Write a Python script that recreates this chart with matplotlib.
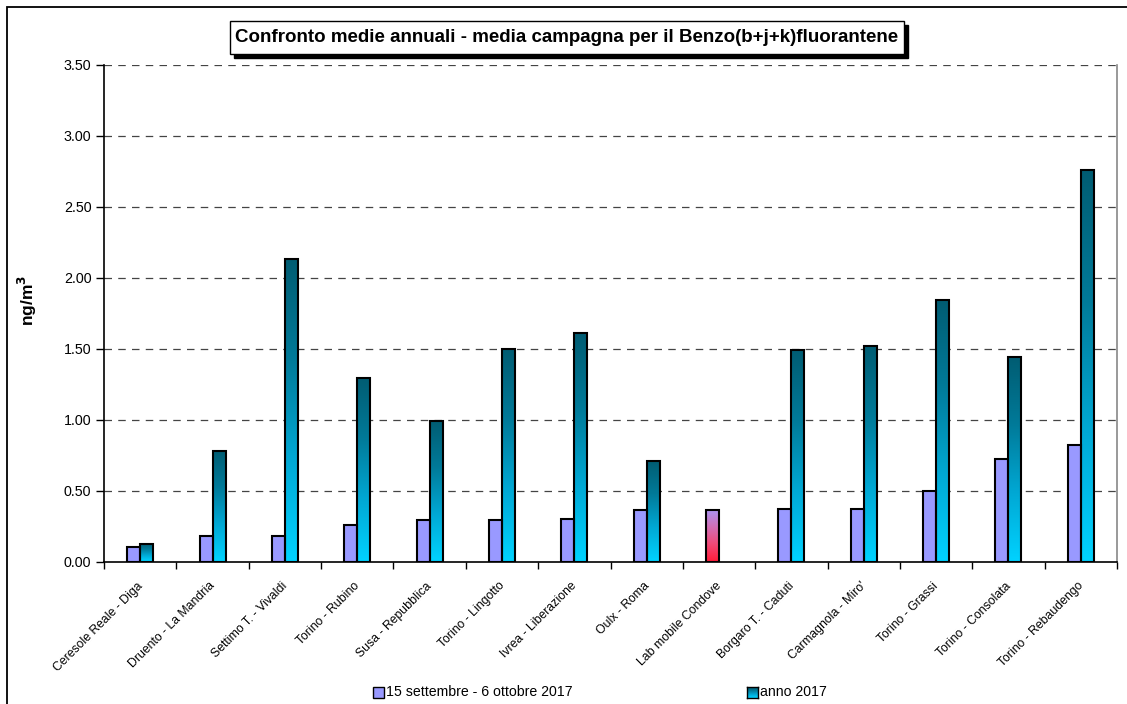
import numpy as np
import matplotlib
matplotlib.use("Agg")
import matplotlib.pyplot as plt
from matplotlib.colors import LinearSegmentedColormap
from matplotlib.patches import Rectangle

plt.rcParams['font.family'] = ['Liberation Sans', 'DejaVu Sans']

stations = [
    "Ceresole Reale - Diga", "Druento - La Mandria", "Settimo T. - Vivaldi",
    "Torino - Rubino", "Susa - Repubblica", "Torino - Lingotto",
    "Ivrea - Liberazione", "Oulx - Roma", "Lab mobile Condove",
    "Borgaro T. - Caduti", "Carmagnola - Miro'", "Torino - Grassi",
    "Torino - Consolata", "Torino - Rebaudengo",
]
campaign = [0.10, 0.18, 0.18, 0.26, 0.29, 0.29, 0.30, 0.36, 0.36,
            0.37, 0.37, 0.50, 0.72, 0.82]
year_2017 = [0.12, 0.78, 2.13, 1.29, 0.99, 1.50, 1.61, 0.71, None,
             1.49, 1.52, 1.84, 1.44, 2.76]
mobile_lab = "Lab mobile Condove"
yticks = [0.0, 0.5, 1.0, 1.5, 2.0, 2.5, 3.0, 3.5]

label_campaign = "15 settembre - 6 ottobre 2017"
label_year = "anno 2017"
title = "Confronto medie annuali - media campagna per il Benzo(b+j+k)fluorantene"

W, H = 1127, 704
fig = plt.figure(figsize=(W / 100, H / 100), dpi=100)
ax = fig.add_axes([104 / W, 1 - 561.5 / H, (1117 - 104) / W, (561.5 - 64.5) / H])

purple = "#9999ff"
cyan_cmap = LinearSegmentedColormap.from_list(
    "cyan_grad", ["#00d2ff", "#00a8d4", "#007a99", "#005c72"])
lab_cmap = LinearSegmentedColormap.from_list(
    "lab_grad", ["#ff1e3c", "#f04a78", "#d070b8", "#a896f4"])
grad = np.linspace(0, 1, 256).reshape(-1, 1)

bw = 0.18
x = np.arange(len(stations)) + 0.5


def gradient_bar(x0, h, cmap):
    ax.imshow(grad, extent=[x0, x0 + bw, 0, h], origin="lower",
              aspect="auto", cmap=cmap, zorder=3, interpolation="bicubic")
    ax.add_patch(Rectangle((x0, 0), bw, h, facecolor="none",
                           edgecolor="black", linewidth=1.5, zorder=4))


for i, name in enumerate(stations):
    if name == mobile_lab:
        gradient_bar(x[i] - bw, campaign[i], lab_cmap)
    else:
        ax.bar(x[i] - bw, campaign[i], width=bw, align="edge",
               color=purple, edgecolor="black", linewidth=1.5, zorder=4)
    if year_2017[i] is not None:
        gradient_bar(x[i], year_2017[i], cyan_cmap)

ax.set_xlim(0, len(stations))
ax.set_ylim(0, 3.5)

# dashed horizontal grid at each major tick above zero
for v in yticks[1:]:
    ax.axhline(v, color="#444444", linestyle=(0, (6, 5)), linewidth=0.9, zorder=1)

ax.set_yticks(yticks)
ax.set_yticklabels([f"{v:.2f}" for v in yticks], fontsize=10.3)
ax.set_xticks(np.arange(len(stations) + 1))
ax.set_xticklabels([])
ax.tick_params(axis="y", direction="out", length=6, width=1, pad=3)
ax.tick_params(axis="x", direction="out", length=5, width=1)
for i, name in enumerate(stations):
    ax.text(x[i] - 0.05, -0.13, name, rotation=45, ha="right", va="top",
            rotation_mode="anchor", fontsize=8.8, transform=ax.transData)

ax.spines["top"].set_visible(False)
ax.spines["right"].set_color("#888888")
ax.spines["right"].set_linewidth(1.2)
ax.spines["left"].set_linewidth(1.2)
ax.spines["bottom"].set_linewidth(1.2)

fig.text(27 / W, 1 - 300 / H, "ng/m$^\\mathbf{3}$", rotation=90, ha="center",
         va="center", fontsize=12.5, fontweight="bold")

# title box with drop shadow
bx0, bx1, by0, by1 = 230, 904, 21, 54
fig.add_artist(Rectangle(((bx0 + 4) / W, 1 - (by1 + 4) / H), (bx1 - bx0) / W,
                         (by1 - by0) / H, transform=fig.transFigure,
                         facecolor="black", edgecolor="black", zorder=5))
fig.add_artist(Rectangle((bx0 / W, 1 - by1 / H), (bx1 - bx0) / W,
                         (by1 - by0) / H, transform=fig.transFigure,
                         facecolor="white", edgecolor="black", linewidth=1,
                         zorder=6))
fig.text((bx0 + bx1) / 2 / W, 1 - 37.5 / H, title, ha="center", va="center",
         fontsize=13.5, fontweight="bold", zorder=7)

# legend
def legend_entry(px, text, color=None, cmap=None):
    y0 = 1 - 698 / H
    sz_w, sz_h = 11 / W, 11 / H
    if cmap is None:
        fig.add_artist(Rectangle((px / W, y0), sz_w, sz_h, transform=fig.transFigure,
                                 facecolor=color, edgecolor="black", linewidth=1))
    else:
        lax = fig.add_axes([px / W, y0, sz_w, sz_h])
        lax.imshow(grad, origin="lower", aspect="auto", cmap=cmap,
                   extent=[0, 1, 0, 1])
        lax.set_xticks([])
        lax.set_yticks([])
        for s in lax.spines.values():
            s.set_linewidth(1)
    fig.text((px + 13) / W, y0 + sz_h / 2, text, ha="left", va="center",
             fontsize=10.2)


legend_entry(373, label_campaign, color=purple)
legend_entry(747, label_year, cmap=cyan_cmap)

# outer frame
fig.add_artist(Rectangle((7 / W, -0.1), 1.2, 1 - 7 / H + 0.1,
                         transform=fig.transFigure, facecolor="none",
                         edgecolor="black", linewidth=1.3))

fig.savefig("out.png", dpi=100)
